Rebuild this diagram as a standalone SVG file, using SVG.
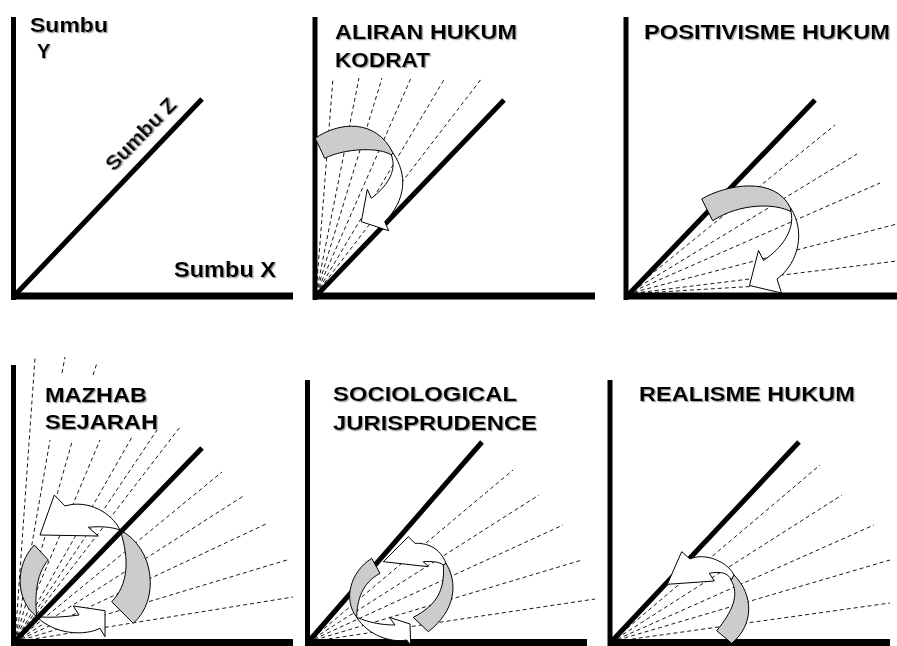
<svg xmlns="http://www.w3.org/2000/svg" width="897" height="646" viewBox="0 0 897 646">
<defs>
<style>
.ax{stroke:#000;stroke-width:5;fill:none;stroke-linecap:butt}
.axx{stroke:#000;stroke-width:7;fill:none}
.dz{stroke:#000;stroke-width:5;fill:none}
.ds{stroke:#000;stroke-width:0.9;stroke-dasharray:4 3;fill:none}
.gr{fill:#cccccc;stroke:#000;stroke-width:1;stroke-linejoin:round}
.wh{fill:#ffffff;stroke:#000;stroke-width:1;stroke-linejoin:miter}
.t{font-family:"Liberation Sans",Arial,sans-serif;font-weight:bold;font-size:21px;fill:#000;filter:url(#sh)}
</style>
<filter id="sh" x="-10%" y="-20%" width="120%" height="150%">
<feDropShadow dx="1.2" dy="1.2" stdDeviation="0.6" flood-color="#888888" flood-opacity="0.8"/>
</filter>
</defs>
<rect width="897" height="646" fill="#ffffff"/>

<g id="panel-axes">
<line class="ax" x1="13.5" y1="17" x2="13.5" y2="300"/>
<line class="axx" x1="11" y1="296" x2="293" y2="296"/>
<line class="dz" x1="15" y1="295" x2="202" y2="99"/>
<text class="t" x="30" y="32" textLength="78" lengthAdjust="spacingAndGlyphs" style="font-size:20px">Sumbu</text>
<text class="t" x="37" y="58" style="font-size:20px">Y</text>
<text class="t" x="174" y="277" textLength="102" lengthAdjust="spacingAndGlyphs" style="font-size:22px">Sumbu X</text>
<text class="t" transform="translate(140,133.5) rotate(-46)" x="0" y="7.5" text-anchor="middle" textLength="92" lengthAdjust="spacingAndGlyphs">Sumbu Z</text>
</g>

<g id="panel-aliran-hukum-kodrat">
<g id="p2-rays">
<line class="ds" x1="316" y1="294" x2="333" y2="78"/>
<line class="ds" x1="316" y1="294" x2="359" y2="78"/>
<line class="ds" x1="316" y1="294" x2="382" y2="78"/>
<line class="ds" x1="316" y1="294" x2="411" y2="78"/>
<line class="ds" x1="316" y1="294" x2="445" y2="78"/>
<line class="ds" x1="316" y1="294" x2="482" y2="78"/>
</g>
<line class="ax" x1="315" y1="17" x2="315" y2="300"/>
<line class="axx" x1="313" y1="296" x2="595" y2="296"/>
<line class="dz" x1="317" y1="295" x2="504" y2="100"/>
<g id="p2-arrow">
<path class="gr" d="M315.3,138.3 C338,122 376,118 393,153 L391.3,155 C380,147 345,148 324.7,158.3 Z"/>
<path class="wh" d="M393,153 C408,175 406,200 384.7,221.7 L388.7,230.7 L361.3,221.7 L367.3,189.3 L371.3,198.3 C385,188 398,172 391.3,155 Z"/>
</g>
<text class="t" x="335" y="38.5" textLength="182" lengthAdjust="spacingAndGlyphs">ALIRAN HUKUM</text>
<text class="t" x="335" y="67" textLength="95" lengthAdjust="spacingAndGlyphs">KODRAT</text>
</g>

<g id="panel-positivisme-hukum">
<g id="p3-rays">
<line class="ds" x1="627" y1="294" x2="835" y2="125"/>
<line class="ds" x1="627" y1="294" x2="857" y2="154"/>
<line class="ds" x1="627" y1="294" x2="880" y2="183"/>
<line class="ds" x1="627" y1="294" x2="897" y2="224"/>
<line class="ds" x1="627" y1="294" x2="897" y2="261"/>
<line class="ds" x1="627" y1="294" x2="775" y2="285"/>
</g>
<line class="ax" x1="626" y1="17" x2="626" y2="300"/>
<line class="axx" x1="624" y1="296" x2="897" y2="296"/>
<line class="dz" x1="628" y1="295" x2="815" y2="100"/>
<g id="p3-arrow">
<path class="gr" d="M701.7,199 C725,185 775,175 790.7,208.3 L791,211.7 C775,203 740,203 712.7,220.7 Z"/>
<path class="wh" d="M790.7,208.3 C805,230 800,262 777,279 L781.5,293 L749.5,285.5 L758.5,250.5 L763.5,260.5 C782,248 795,230 791,211.7 Z"/>
</g>
<text class="t" x="644" y="39" textLength="246" lengthAdjust="spacingAndGlyphs">POSITIVISME HUKUM</text>
</g>

<g id="panel-mazhab-sejarah">
<g id="p4-rays">
<line class="ds" x1="15" y1="642" x2="35" y2="358"/>
<line class="ds" x1="15" y1="642" x2="50" y2="440"/>
<line class="ds" x1="62" y1="373" x2="65" y2="357"/>
<line class="ds" x1="15" y1="642" x2="72" y2="442"/>
<line class="ds" x1="93" y1="375" x2="97" y2="363"/>
<line class="ds" x1="15" y1="642" x2="100" y2="440"/>
<line class="ds" x1="15" y1="642" x2="132" y2="437"/>
<line class="ds" x1="15" y1="642" x2="157" y2="430"/>
<line class="ds" x1="15" y1="642" x2="180" y2="427"/>
<line class="ds" x1="15" y1="642" x2="222" y2="472"/>
<line class="ds" x1="15" y1="642" x2="245" y2="495"/>
<line class="ds" x1="15" y1="642" x2="268" y2="523"/>
<line class="ds" x1="15" y1="642" x2="287" y2="560"/>
<line class="ds" x1="15" y1="642" x2="293" y2="597"/>
</g>
<line class="ax" x1="13.5" y1="365" x2="13.5" y2="646"/>
<line class="axx" x1="11" y1="642.5" x2="293" y2="642.5"/>
<g id="p4-arrows">
<path class="wh" d="M120,530 C112,513 88,499 65,506 L54.3,495 L40,535 L98.3,536 L88.3,527.3 C100,526 112,527 120,530 Z"/>
<path class="gr" d="M120,530 C155,548 160,600 133.3,623.3 L111.7,601.7 C128,585 130,560 120,530 Z"/>
<path class="gr" d="M34.3,545 C15,565 15,600 36.7,616.7 C35,600 35,575 48.3,560 Z"/>
<path class="wh" d="M36.7,616.7 C50,618 65,617 79,615 L73.3,606 L105,610.7 L105,636.7 L100,628.3 C85,636 55,635 36.7,616.7 Z"/>
</g>
<line class="dz" x1="15" y1="641" x2="202" y2="448"/>
<text class="t" x="45" y="401.5" textLength="102" lengthAdjust="spacingAndGlyphs">MAZHAB</text>
<text class="t" x="45" y="429" textLength="113" lengthAdjust="spacingAndGlyphs">SEJARAH</text>
</g>

<g id="panel-sociological-jurisprudence">
<g id="p5-rays">
<line class="ds" x1="308" y1="642" x2="513" y2="470"/>
<line class="ds" x1="308" y1="642" x2="539" y2="495"/>
<line class="ds" x1="308" y1="642" x2="563" y2="525"/>
<line class="ds" x1="308" y1="642" x2="582" y2="560"/>
<line class="ds" x1="308" y1="642" x2="595" y2="599"/>
</g>
<line class="ax" x1="307.5" y1="380" x2="307.5" y2="646"/>
<line class="axx" x1="305" y1="642.5" x2="587" y2="642.5"/>
<line class="dz" x1="309" y1="641" x2="482" y2="442"/>
<g id="p5-arrows">
<path class="wh" d="M446,563.3 C440,548 428,543 415,543.3 L408.3,536.7 L383.3,561.7 L428.3,566.7 L423.3,561.7 C432,561 440,562 443.3,565 Z"/>
<path class="gr" d="M446,563.3 C458,583 456,610 428.3,631.7 L413.3,617.3 C437,605 445,590 443.3,565 Z"/>
<path class="gr" d="M371.7,558.3 C350,572 343,600 356.7,617.3 C357,600 362,583 380,573.3 Z"/>
<path class="wh" d="M356.7,617.3 C370,623 383,625 395,625 L389.3,617.3 L410,624 L410.7,645 L406.7,640 C390,643 368,635 356.7,617.3 Z"/>
</g>
<text class="t" x="333" y="401" textLength="184" lengthAdjust="spacingAndGlyphs">SOCIOLOGICAL</text>
<text class="t" x="333" y="430" textLength="204" lengthAdjust="spacingAndGlyphs">JURISPRUDENCE</text>
</g>

<g id="panel-realisme-hukum">
<g id="p6-rays">
<line class="ds" x1="611" y1="642" x2="820" y2="465"/>
<line class="ds" x1="611" y1="642" x2="842" y2="495"/>
<line class="ds" x1="611" y1="642" x2="874" y2="525"/>
<line class="ds" x1="611" y1="642" x2="890" y2="560"/>
<line class="ds" x1="611" y1="642" x2="890" y2="603"/>
</g>
<line class="ax" x1="610" y1="380" x2="610" y2="646"/>
<line class="axx" x1="608" y1="642.5" x2="890" y2="642.5"/>
<line class="dz" x1="612" y1="641" x2="799" y2="442"/>
<g id="p6-arrow">
<path class="gr" d="M716.7,630.7 C732,612 740,595 731,580 L734,575 C754,595 754,625 731.7,643.3 Z"/>
<path class="wh" d="M734,575 C728,562 705,552 690,559 L681.7,551.7 L667.3,584.3 L714.3,581 L709.3,573.3 C720,571 729,573 731,580 Z"/>
</g>
<text class="t" x="639" y="400.5" textLength="216" lengthAdjust="spacingAndGlyphs">REALISME HUKUM</text>
</g>
</svg>
